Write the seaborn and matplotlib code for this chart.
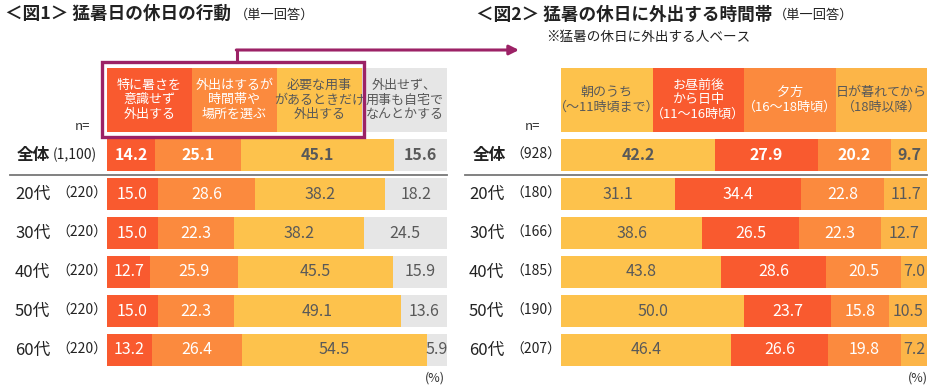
import numpy as np
import pandas as pd
import matplotlib
matplotlib.use('Agg')
import matplotlib.pyplot as plt
import matplotlib.transforms as mtransforms
from matplotlib.patches import Rectangle, FancyArrowPatch
from matplotlib.lines import Line2D
import seaborn as sns

plt.rcParams['font.family'] = ['Noto Sans CJK JP', 'DejaVu Sans']

# ── Data ──────────────────────────────────────────────────
groups = ['全体', '20代', '30代', '40代', '50代', '60代']

# 図1: 猛暑日の休日の行動
fig1_n = ['(1,100)', '（220）', '（220）', '（220）', '（220）', '（220）']
fig1_headers = ['特に暑さを\n意識せず\n外出する',
                '外出はするが\n時間帯や\n場所を選ぶ',
                '必要な用事\nがあるときだけ\n外出する',
                '外出せず、\n用事も自宅で\nなんとかする']
fig1_go_ignore = [14.2, 15.0, 15.0, 12.7, 15.0, 13.2]
fig1_go_choose = [25.1, 28.6, 22.3, 25.9, 22.3, 26.4]
fig1_go_needed = [45.1, 38.2, 38.2, 45.5, 49.1, 54.5]
fig1_stay_home = [15.6, 18.2, 24.5, 15.9, 13.6, 5.9]

# 図2: 猛暑の休日に外出する時間帯
fig2_n = ['（928）', '（180）', '（166）', '（185）', '（190）', '（207）']
fig2_headers = ['朝のうち\n（～11時頃まで）',
                'お昼前後\nから日中\n（11～16時頃）',
                '夕方\n（16～18時頃）',
                '日が暮れてから\n（18時以降）']
fig2_morning = [42.2, 31.1, 38.6, 43.8, 50.0, 46.4]
fig2_midday = [27.9, 34.4, 26.5, 28.6, 23.7, 26.6]
fig2_evening = [20.2, 22.8, 22.3, 20.5, 15.8, 19.8]
fig2_night = [9.7, 11.7, 12.7, 7.0, 10.5, 7.2]

# ── Style ─────────────────────────────────────────────────
RED = '#F95A2F'
ORANGE = '#FB8A3E'
YELLOW = '#FDC24C'
AMBER = '#FCB548'
GREY = '#E6E6E6'
DARK = '#595959'
PURPLE = '#9C2266'

W, H = 934, 389


def px(x, y):
    return (x / W, 1 - y / H)


def stacked_frame(series, names):
    rows = []
    cum = np.zeros(len(groups))
    for name, vals in zip(names, series):
        vals = np.array(vals, dtype=float)
        start = cum.copy()
        cum = cum + vals
        for g, s, e, v in zip(groups, start, cum, vals):
            rows.append(dict(group=g, seg=name, start=s, end=e, value=v))
    return pd.DataFrame(rows)


def draw_panel(ax, series, headers, colors, txtcolors, n_labels,
               lab_x, n_x, line_x0, line_x1):
    names = [f's{i}' for i in range(len(series))]
    df = stacked_frame(series, names)
    # draw cumulative bars from the outermost segment inwards
    sns.barplot(data=df, x='end', y='group', hue='seg', order=groups,
                hue_order=names[::-1], palette=dict(zip(names, colors)),
                dodge=False, width=0.82, linewidth=0, errorbar=None,
                saturation=1, legend=False, ax=ax)
    ax.set_xlim(0, 100)
    ax.set_ylim(len(groups) - 0.5, -0.5)
    ax.axis('off')

    for _, r in df.iterrows():
        i = groups.index(r['group'])
        k = names.index(r['seg'])
        ax.text((r['start'] + r['end']) / 2, i, f"{r['value']:.1f}",
                ha='center', va='center', fontsize=11.5,
                color=txtcolors[k],
                fontweight='bold' if i == 0 else 'normal')

    # header row (legend boxes)
    y0, hh = 1.015, 0.274
    n = len(headers)
    for k, lab in enumerate(headers):
        ax.add_patch(Rectangle((k / n, y0), 1 / n, hh, transform=ax.transAxes,
                               color=colors[k], clip_on=False, lw=0))
        ax.text((k + 0.5) / n, y0 + hh / 2, lab, transform=ax.transAxes,
                ha='center', va='center', fontsize=9.4, color=txtcolors[k],
                linespacing=1.15)

    # row labels
    tr = mtransforms.blended_transform_factory(fig.transFigure, ax.transData)
    for i, (g, nl) in enumerate(zip(groups, n_labels)):
        bold = i == 0
        ax.text(lab_x[0 if bold else 1] / W, i, g, transform=tr,
                ha='left', va='center', fontsize=12, color='#222222',
                fontweight='bold' if bold else 'normal')
        ax.text(n_x[0 if bold else 1] / W, i, nl, transform=tr,
                ha='left', va='center', fontsize=10, color='#222222')
    ax.add_line(Line2D([line_x0 / W, line_x1 / W], [0.5, 0.5], transform=tr,
                       color='#777777', lw=1.3, clip_on=False))


fig = plt.figure(figsize=(W / 100, H / 100), dpi=100)
ax1 = fig.add_axes([107 / W, 1 - 369.5 / H, 340 / W, 234 / H])
ax2 = fig.add_axes([561 / W, 1 - 369.5 / H, 366 / W, 234 / H])

draw_panel(ax1, [fig1_go_ignore, fig1_go_choose, fig1_go_needed, fig1_stay_home],
           fig1_headers, [RED, ORANGE, YELLOW, GREY],
           ['white', 'white', DARK, DARK], fig1_n,
           lab_x=(17, 15), n_x=(53, 56), line_x0=10, line_x1=447)
draw_panel(ax2, [fig2_morning, fig2_midday, fig2_evening, fig2_night],
           fig2_headers, [YELLOW, RED, ORANGE, AMBER],
           [DARK, 'white', 'white', DARK], fig2_n,
           lab_x=(473, 469), n_x=(510, 510), line_x0=465, line_x1=927)

# ── Titles and notes ──────────────────────────────────────
fig.text(*px(5, 14), '＜図1＞ 猛暑日の休日の行動', fontsize=12.7,
         fontweight='bold', ha='left', va='center', color='#222222')
fig.text(*px(235, 15), '（単一回答）', fontsize=9.5, ha='left', va='center',
         color='#222222')
fig.text(*px(476, 15), '＜図2＞ 猛暑の休日に外出する時間帯', fontsize=12.7,
         fontweight='bold', ha='left', va='center', color='#222222')
fig.text(*px(774, 15), '（単一回答）', fontsize=9.5, ha='left', va='center',
         color='#222222')
fig.text(*px(546, 37), '※猛暑の休日に外出する人ベース', fontsize=9.8,
         ha='left', va='center', color='#222222')

fig.text(*px(75, 126), 'n=', fontsize=9.5, ha='left', va='center', color='#333333')
fig.text(*px(525, 127), 'n=', fontsize=9.5, ha='left', va='center', color='#333333')
fig.text(*px(445, 378), '(%)', fontsize=9, ha='right', va='center', color='#333333')
fig.text(*px(928, 378), '(%)', fontsize=9, ha='right', va='center', color='#333333')

# purple highlight box and arrow towards 図2
x0, y0 = px(102, 137)
x1, y1 = px(364, 62)
fig.add_artist(Rectangle((x0, y0), x1 - x0, y1 - y0, transform=fig.transFigure,
                         fill=False, ec=PURPLE, lw=2.4))
fig.add_artist(Line2D([237 / W, 237 / W], [1 - 62 / H, 1 - 50 / H],
                      transform=fig.transFigure, color=PURPLE, lw=2.2))
fig.add_artist(FancyArrowPatch(px(236.3, 50), px(519, 50), transform=fig.transFigure,
                               arrowstyle='-|>', mutation_scale=14, color=PURPLE,
                               lw=2.2, shrinkA=0, shrinkB=0))

fig.savefig('out.png', dpi=100)
plt.close()
